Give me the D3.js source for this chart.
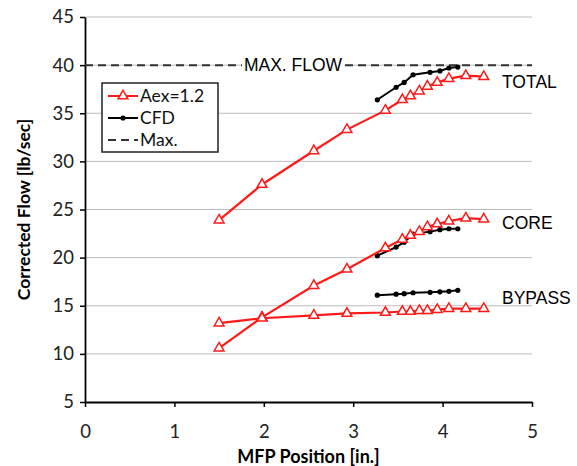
<!DOCTYPE html>
<html>
<head>
<meta charset="utf-8">
<script src="https://cdn.jsdelivr.net/npm/d3@7"></script>
<style>
  body { margin: 0; background: #fff; }
  text { font-family: Lato, "Open Sans", sans-serif; }
</style>
</head>
<body>
<svg id="chart" width="577" height="466"></svg>
<script>
// test positions (Aex=1.2) and CFD positions
const aexX = [1.5, 1.98, 2.56, 2.93, 3.36, 3.55, 3.64, 3.74, 3.83, 3.94, 4.07, 4.26, 4.46];
const aexTotal = [23.9, 27.6, 31.1, 33.3, 35.3, 36.4, 36.8, 37.3, 37.8, 38.2, 38.6, 38.9, 38.8];
const aexCore = [10.6, 13.8, 17.1, 18.8, 21.0, 21.9, 22.3, 22.7, 23.2, 23.5, 23.8, 24.1, 24.0];
const aexBypass = [13.2, 13.7, 14.0, 14.2, 14.3, 14.4, 14.4, 14.5, 14.5, 14.6, 14.7, 14.7, 14.7];

const cfdX = [3.27, 3.48, 3.57, 3.67, 3.86, 3.97, 4.07, 4.17];
const cfdTotal = [36.4, 37.7, 38.2, 39.0, 39.25, 39.4, 39.7, 39.8];
const cfdCore = [20.2, 21.1, 21.6, 22.45, 22.7, 22.9, 23.0, 23.0];
const cfdBypass = [16.1, 16.2, 16.25, 16.35, 16.4, 16.45, 16.5, 16.6];

const maxFlow = 40;
const groupLabels = ['TOTAL', 'CORE', 'BYPASS'];
const groupLabelY = [38.2, 23.6, 15.8];
const xTicks = [0, 1, 2, 3, 4, 5];
const yTicks = [5, 10, 15, 20, 25, 30, 35, 40, 45];

const svg = d3.select('#chart');
const margin = { left: 85, right: 45, top: 17, bottom: 64 };
const width = +svg.attr('width');
const height = +svg.attr('height');

const x = d3.scaleLinear().domain([0, 5]).range([margin.left, width - margin.right]);
const y = d3.scaleLinear().domain([5, 45]).range([height - margin.bottom, margin.top]);

// gridlines
svg.append('g')
    .selectAll('line')
    .data(yTicks.filter(d => d > 5))
    .enter()
    .append('line')
    .attr('x1', x(0))
    .attr('x2', x(5))
    .attr('y1', d => y(d))
    .attr('y2', d => y(d))
    .attr('stroke', '#bdbdbd')
    .attr('stroke-width', 1);

// axes
const xAxis = svg.append('g')
    .attr('transform', `translate(0,${y(5)})`)
    .call(d3.axisBottom(x).tickValues(xTicks).tickFormat(d3.format('d'))
        .tickSize(5).tickPadding(18).tickSizeOuter(0));
const yAxis = svg.append('g')
    .attr('transform', `translate(${x(0)},0)`)
    .call(d3.axisLeft(y).tickValues(yTicks).tickSize(5).tickPadding(6).tickSizeOuter(0));

[xAxis, yAxis].forEach(a => {
    a.select('.domain').attr('stroke', '#000').attr('stroke-width', 1.8);
    a.selectAll('.tick line').attr('stroke', '#000').attr('stroke-width', 1.5);
    a.selectAll('.tick text')
        .attr('fill', '#222')
        .style('font-size', '18.5px')
        .style('font-family', 'Lato, sans-serif');
});

svg.append('text')
    .attr('x', (x(0) + x(5)) / 2)
    .attr('y', 463)
    .attr('text-anchor', 'middle')
    .style('font-size', '18px')
    .style('font-weight', 'bold')
    .text('MFP Position [in.]');

svg.append('text')
    .attr('transform', `translate(30,${(y(5) + y(45)) / 2}) rotate(-90)`)
    .attr('text-anchor', 'middle')
    .style('font-size', '17.5px')
    .style('font-weight', 'bold')
    .text('Corrected Flow [lb/sec]');

// max flow line
svg.append('line')
    .attr('x1', x(0))
    .attr('x2', x(5))
    .attr('y1', y(maxFlow))
    .attr('y2', y(maxFlow))
    .attr('stroke', '#333')
    .attr('stroke-width', 2)
    .attr('stroke-dasharray', '8,5');

const maxBg = svg.append('rect').attr('fill', '#fff');
const maxLabel = svg.append('text')
    .attr('x', 293)
    .attr('y', y(maxFlow) + 6)
    .attr('text-anchor', 'middle')
    .style('font-family', '"Liberation Sans", Arial, sans-serif')
    .style('font-size', '17.5px')
    .text('MAX. FLOW');
const bb = maxLabel.node().getBBox();
maxBg.attr('x', bb.x - 2)
    .attr('y', bb.y + 2)
    .attr('width', bb.width + 4)
    .attr('height', bb.height - 4);

const line = d3.line().x(d => x(d[0])).y(d => y(d[1]));
const triangle = d3.symbol().type(d3.symbolTriangle).size(42);

// CFD series
[cfdTotal, cfdCore, cfdBypass].forEach(vals => {
    const pts = cfdX.map((v, i) => [v, vals[i]]);
    svg.append('path')
        .datum(pts)
        .attr('d', line)
        .attr('fill', 'none')
        .attr('stroke', '#000')
        .attr('stroke-width', 2);
    svg.append('g')
        .selectAll('circle')
        .data(pts)
        .enter()
        .append('circle')
        .attr('cx', d => x(d[0]))
        .attr('cy', d => y(d[1]))
        .attr('r', 2.6)
        .attr('fill', '#000');
});

// Aex=1.2 series
[aexTotal, aexCore, aexBypass].forEach(vals => {
    const pts = aexX.map((v, i) => [v, vals[i]]);
    svg.append('path')
        .datum(pts)
        .attr('d', line)
        .attr('fill', 'none')
        .attr('stroke', '#ff1a1a')
        .attr('stroke-width', 2.2);
    svg.append('g')
        .selectAll('path')
        .data(pts)
        .enter()
        .append('path')
        .attr('d', triangle)
        .attr('transform', d => `translate(${x(d[0])},${y(d[1])})`)
        .attr('fill', '#fff')
        .attr('stroke', '#ff1a1a')
        .attr('stroke-width', 1.5);
});

// group labels
svg.append('g')
    .selectAll('text')
    .data(groupLabels)
    .enter()
    .append('text')
    .attr('x', 502)
    .attr('y', (d, i) => y(groupLabelY[i]) + 6)
    .style('font-family', '"Liberation Sans", Arial, sans-serif')
    .style('font-size', '17.5px')
    .text(d => d);

// legend
const legend = svg.append('g').attr('transform', 'translate(102,83)');
legend.append('rect')
    .attr('width', 116)
    .attr('height', 69)
    .attr('fill', '#fff')
    .attr('stroke', '#222')
    .attr('stroke-width', 1.5);
const legendItems = ['Aex=1.2', 'CFD', 'Max.'];
legendItems.forEach((name, i) => {
    const ly = 13 + i * 22;
    const row = legend.append('g').attr('transform', `translate(0,${ly})`);
    if (i === 0) {
        row.append('line').attr('x1', 6).attr('x2', 36).attr('stroke', '#ff1a1a').attr('stroke-width', 2);
        row.append('path').attr('d', triangle).attr('transform', 'translate(21,0)')
            .attr('fill', '#fff').attr('stroke', '#ff1a1a').attr('stroke-width', 1.5);
    } else if (i === 1) {
        row.append('line').attr('x1', 6).attr('x2', 36).attr('stroke', '#000').attr('stroke-width', 2);
        row.append('circle').attr('cx', 21).attr('r', 2.6).attr('fill', '#000');
    } else {
        row.append('line').attr('x1', 6).attr('x2', 36).attr('stroke', '#333')
            .attr('stroke-width', 2).attr('stroke-dasharray', '8,5');
    }
    row.append('text')
        .attr('x', 38)
        .attr('y', 6)
        .style('font-size', '17.5px')
        .attr('fill', '#111')
        .text(name);
});
</script>
</body>
</html>
